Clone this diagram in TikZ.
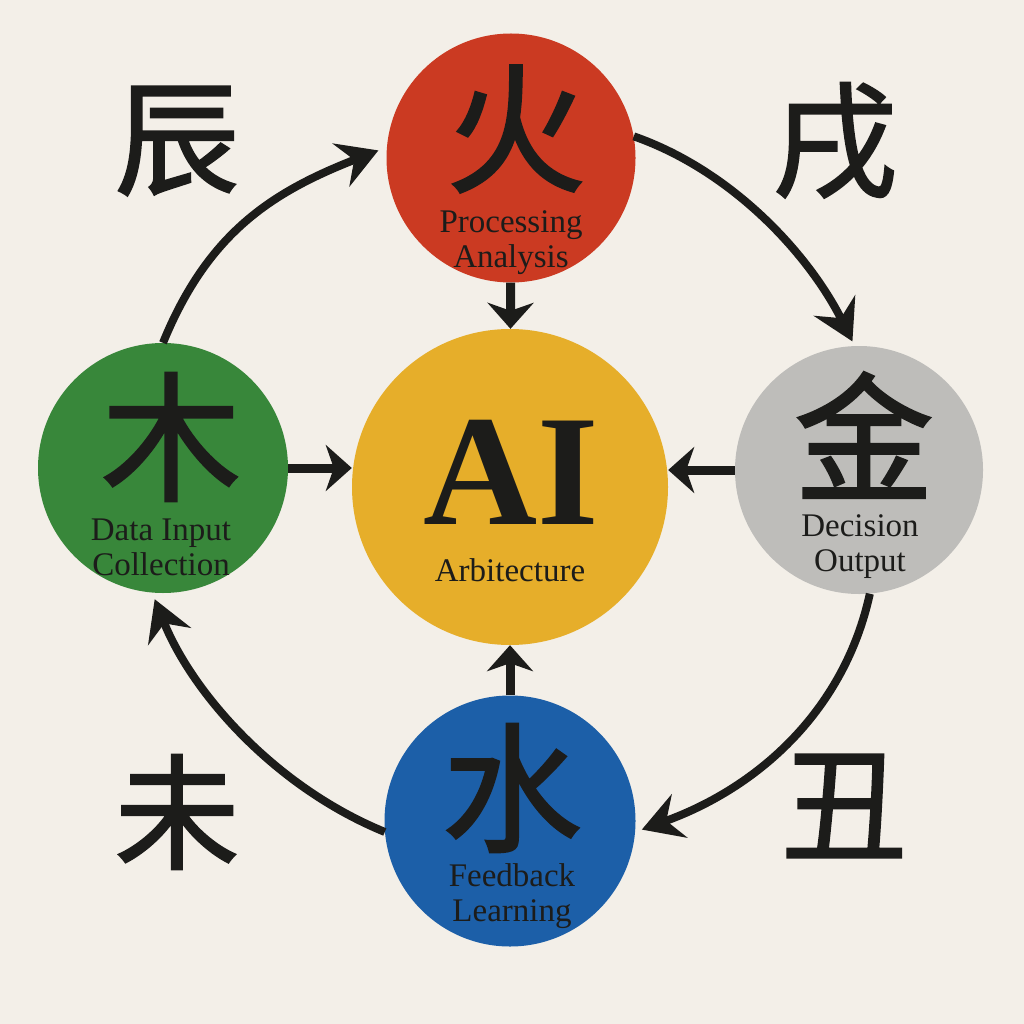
\documentclass[tikz,border=0pt]{standalone}
\usepackage{fontspec}
\setmainfont{Liberation Serif}
\newfontfamily\cjk{Noto Sans CJK SC}[FakeBold=1.6]
\usetikzlibrary{arrows.meta,calc}
\definecolor{bg}{HTML}{F3EFE8}
\definecolor{ink}{HTML}{1C1C1A}
\definecolor{redc}{HTML}{CB3A22}
\definecolor{greenc}{HTML}{38873A}
\definecolor{grayc}{HTML}{BEBDBA}
\definecolor{bluec}{HTML}{1C5FA8}
\definecolor{yellowc}{HTML}{E6AE2A}
\begin{document}
\begin{tikzpicture}[x=1pt,y=-1pt,
  disc/.style={circle,inner sep=0pt,minimum size=#1},
  hanzi/.style={font=\cjk\fontsize{140}{140}\selectfont,text=ink,inner sep=0pt},
  corner/.style={font=\cjk\fontsize{125}{125}\selectfont,text=ink,inner sep=0pt},
  lbl/.style={font=\fontsize{33}{35}\selectfont,align=center,text=ink,inner sep=0pt},
  arcarrow/.style={draw=ink,line width=8pt,-{Stealth[length=40pt,width=46pt,inset=14pt]}},
  link/.style={draw=ink,line width=9pt,-{Stealth[length=26pt,width=46pt,inset=8pt]}}]
\fill[bg] (0,0) rectangle (1024,1024);
\useasboundingbox (0,0) rectangle (1024,1024);
% discs
\node[disc=316pt,fill=yellowc] (ai) at (510,487) {};
\node[disc=249pt,fill=redc] (fire) at (511,158) {};
\node[disc=250pt,fill=greenc] (wood) at (163,468) {};
\node[disc=248pt,fill=grayc] (metal) at (859,470) {};
\node[disc=251pt,fill=bluec] (water) at (510,821) {};
% cycle arcs
\draw[arcarrow,shorten >=9pt] (wood.north) .. controls ($(wood.north)+(45,-110)$) and ($(fire.175)+(-115,45)$) .. (fire.175);
\draw[arcarrow,shorten >=5pt] (fire.10) .. controls ($(fire.10)+(100,35)$) and ($(metal.92)+(-45,-90)$) .. (metal.92);
\draw[arcarrow,shorten >=7pt] (metal.-85) .. controls ($(metal.-85)+(-25,115)$) and ($(water.-5)+(125,-45)$) .. (water.-5);
\draw[arcarrow,shorten >=7pt] (water.185) .. controls ($(water.185)+(-110,-45)$) and ($(wood.-95)+(40,100)$) .. (wood.-95);
% links to centre
\draw[link] (fire) -- (ai);
\draw[link] (wood.east) -- (wood.east -| ai.west);
\draw[link] (metal.west) -- (metal.west -| ai.east);
\draw[link] (water) -- (ai);
% glyphs
\node[hanzi] (fireg) at (516,129) {火};
\node[hanzi] (woodg) at (171,437) {木};
\node[hanzi] (metalg) at (864,435) {金};
\node[hanzi] (waterg) at (512,788) {水};
\node[font=\bfseries\fontsize{158}{158}\selectfont,text=ink,inner sep=0pt] (aig) at (511,472) {AI};
% labels
\node[lbl] (firel) at (511,243) {Processing\\Analysis};
\node[lbl] (woodl) at (161,547) {Data Input\\Collection};
\node[lbl] (metall) at (860,547) {Decision\\Output};
\node[lbl] (waterl) at (512,896) {Feedback\\Learning};
\node[lbl] (ail) at (510,570) {Arbitecture};
% corner characters
\node[corner] (c1) at (177,141) {辰};
\node[corner] (c2) at (835,141) {戌};
\node[corner] (c3) at (177,812) {未};
\node[corner] (c4) at (844,806) {丑};
\end{tikzpicture}
\end{document}
